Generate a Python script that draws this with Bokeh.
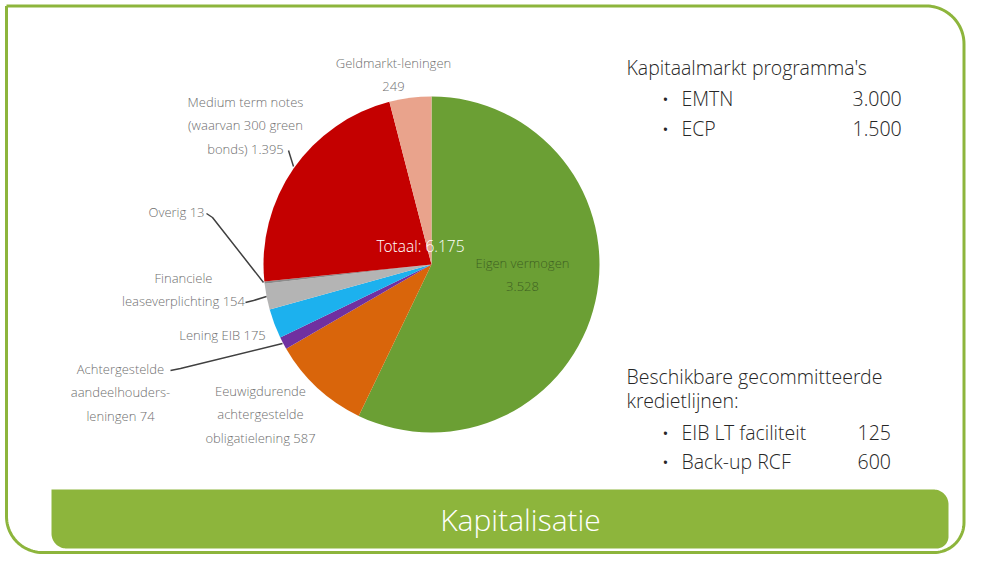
import numpy as np
from bokeh.plotting import figure
from bokeh.models import Range1d
from bokeh.embed import file_html
from bokeh.resources import INLINE
from bokeh.core.properties import value

# ---------------- data ----------------
categories = ["Eigen vermogen", "Eeuwigdurende achtergestelde obligatielening",
              "Achtergestelde aandeelhouders-leningen", "Lening EIB",
              "Financiele leaseverplichting", "Overig", "Medium term notes",
              "Geldmarkt-leningen"]
amounts = [3528, 587, 74, 175, 154, 13, 1395, 249]
slice_colors = ["#6B9F34", "#D9650B", "#7030A0", "#1CB1EE", "#B4B4B4",
                "#8C8C8C", "#C40000", "#E9A38C"]
total_label = "Totaal: 6.175"

slice_labels = [
    ["Eigen vermogen", "3.528"],
    ["Eeuwigdurende", "achtergestelde", "obligatielening 587"],
    ["Achtergestelde", "aandeelhouders-", "leningen 74"],
    ["Lening EIB 175"],
    ["Financiele", "leaseverplichting 154"],
    ["Overig 13"],
    ["Medium term notes", "(waarvan 300 green", "bonds) 1.395"],
    ["Geldmarkt-leningen", "249"],
]

kap_title = "Kapitaalmarkt programma's"
kap_items = ["EMTN", "ECP"]
kap_values = ["3.000", "1.500"]

kred_title = ["Beschikbare gecommitteerde", "kredietlijnen:"]
kred_items = ["EIB LT faciliteit", "Back-up RCF"]
kred_values = ["125", "600"]

banner_title = "Kapitalisatie"

# ---------------- layout helpers (reference pixel space, y down) ----------------
W, H = 966, 554
def Y(y):
    return 570 - y

p = figure(width=W, height=H, output_backend="svg", toolbar_location=None,
           x_range=Range1d(0, W), y_range=Range1d(570 - H, 570),
           min_border=0, outline_line_color=None, background_fill_color="white",
           border_fill_color="white")
p.xaxis.visible = False
p.yaxis.visible = False
p.grid.visible = False

GREEN = "#8DB53C"
LIGHT = value("Open Sans Light, Open Sans")

def rrect(x0, y0, x1, y1, rtl, rtr, rbr, rbl, n=24):
    xs, ys = [], []
    def arc(cx, cy, r, t0, t1):
        t = np.linspace(t0, t1, n)
        xs.extend(cx + r * np.cos(t))
        ys.extend(cy + r * np.sin(t))
    arc(x0 + rtl, y0 + rtl, rtl, np.pi, 1.5 * np.pi)
    arc(x1 - rtr, y0 + rtr, rtr, 1.5 * np.pi, 2 * np.pi)
    arc(x1 - rbr, y1 - rbr, rbr, 0, 0.5 * np.pi)
    arc(x0 + rbl, y1 - rbl, rbl, 0.5 * np.pi, np.pi)
    xs.append(xs[0]); ys.append(ys[0])
    return list(xs), [Y(v) for v in ys]

# frame
fx, fy = rrect(6, 5.5, 963.5, 552, 0, 38, 30, 36)
p.line(fx, fy, line_color=GREEN, line_width=3)

# banner
bx, by = rrect(51, 489, 948, 548, 0, 15, 12, 15)
p.patch(bx, by, fill_color=GREEN, line_color=None)
p.text(x=[520], y=[Y(519)], text=[banner_title], text_color="white",
       text_font=LIGHT, text_font_size="30px",
       text_align="center", text_baseline="middle")

# ---------------- pie ----------------
cx, cy, R = 431, 264, 168
vals = np.array(amounts, dtype=float)
tot = vals.sum()
cum = np.concatenate([[0], np.cumsum(vals)])
starts = np.pi / 2 - 2 * np.pi * cum[:-1] / tot
ends = np.pi / 2 - 2 * np.pi * cum[1:] / tot
p.wedge(x=cx, y=Y(cy), radius=R, start_angle=starts, end_angle=ends,
        direction="clock", fill_color=slice_colors, line_color=None)

# slice labels (positions in reference pixel space)
label_pos = [(522, 262), (260, 390), (120, 368), (222, 334), (183, 277),
             (176, 211), (245, 101), (393, 62)]
LBL = "#6E6E6E"
for i, (lines, (lx, ly)) in enumerate(zip(slice_labels, label_pos)):
    col = "#3E5F22" if i == 0 else LBL
    ys = [Y(ly + 23.5 * k) for k in range(len(lines))]
    p.text(x=[lx] * len(lines), y=ys, text=lines, text_color=col,
           text_font=LIGHT, text_font_size="13px",
           text_align="center", text_baseline="middle")

p.text(x=[420], y=[Y(245)], text=[total_label], text_color="white",
       text_font=LIGHT, text_font_size="15.5px",
       text_align="center", text_baseline="middle")

# leader lines
leaders_x = [[288, 293], [206, 212, 263], [245, 253, 266], [170, 180, 282]]
leaders_y = [[150, 166], [213, 217, 282], [302, 300, 296], [370, 368, 343]]
p.multi_line(xs=leaders_x, ys=[[Y(v) for v in l] for l in leaders_y],
             line_color="#404040", line_width=1.5)

# ---------------- right text block ----------------
TXT = "#262626"
p.text(x=[626], y=[Y(67)], text=[kap_title], text_color=TXT, text_font=LIGHT,
       text_font_size="19.5px", text_align="left", text_baseline="middle")
for k, (it, v) in enumerate(zip(kap_items, kap_values)):
    yy = Y(98 + 30 * k)
    p.text(x=[661], y=[yy], text=["\u2022"], text_color=TXT, text_font=LIGHT,
           text_font_size="21px", text_align="left", text_baseline="middle")
    p.text(x=[681], y=[yy], text=[it], text_color=TXT, text_font=LIGHT,
           text_font_size="19.5px", text_align="left", text_baseline="middle")
    p.text(x=[852], y=[yy], text=[v], text_color=TXT, text_font=LIGHT,
           text_font_size="19.5px", text_align="left", text_baseline="middle")

for k, line in enumerate(kred_title):
    p.text(x=[626], y=[Y(376 + 24 * k)], text=[line], text_color=TXT,
           text_font=LIGHT, text_font_size="19.5px", text_align="left",
           text_baseline="middle")
for k, (it, v) in enumerate(zip(kred_items, kred_values)):
    yy = Y(432 + 29 * k)
    p.text(x=[661], y=[yy], text=["\u2022"], text_color=TXT, text_font=LIGHT,
           text_font_size="21px", text_align="left", text_baseline="middle")
    p.text(x=[681], y=[yy], text=[it], text_color=TXT, text_font=LIGHT,
           text_font_size="19.5px", text_align="left", text_baseline="middle")
    p.text(x=[857], y=[yy], text=[v], text_color=TXT, text_font=LIGHT,
           text_font_size="19.5px", text_align="left", text_baseline="middle")

open("out.html", "w").write(file_html(p, INLINE))
